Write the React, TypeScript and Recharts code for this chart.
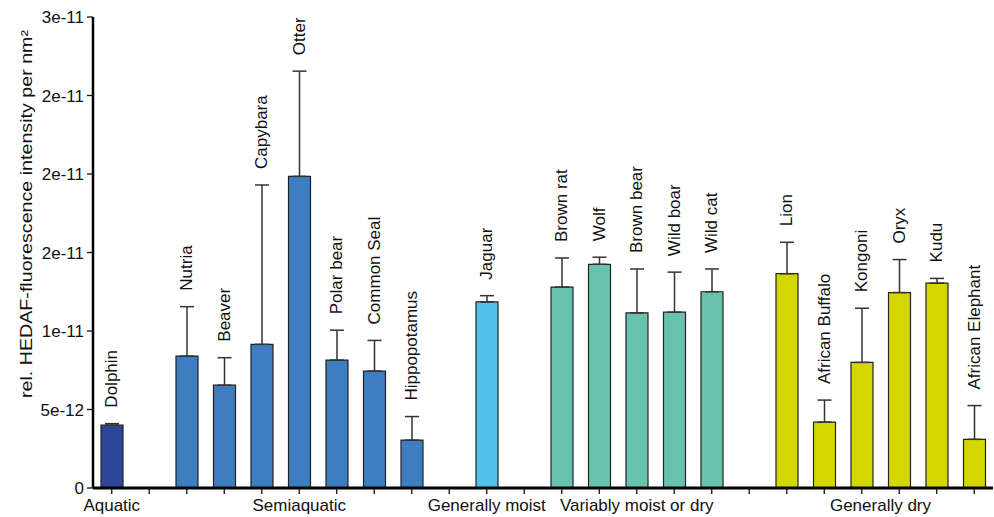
import React from "react";
import { BarChart, Bar, XAxis, YAxis, ErrorBar, Cell, LabelList } from "recharts";

// one entry per x slot, "" = empty spacer slot between groups
const animals = [
  "Dolphin", "",
  "Nutria", "Beaver", "Capybara", "Otter", "Polar bear", "Common Seal", "Hippopotamus", "",
  "Jaguar", "",
  "Brown rat", "Wolf", "Brown bear", "Wild boar", "Wild cat", "",
  "Lion", "African Buffalo", "Kongoni", "Oryx", "Kudu", "African Elephant",
];
const intensity = [
  4.0e-12, null,
  8.4e-12, 6.55e-12, 9.15e-12, 19.85e-12, 8.15e-12, 7.45e-12, 3.05e-12, null,
  11.85e-12, null,
  12.8e-12, 14.25e-12, 11.15e-12, 11.2e-12, 12.5e-12, null,
  13.65e-12, 4.2e-12, 8.0e-12, 12.45e-12, 13.05e-12, 3.1e-12,
];
const errUp = [
  0.1e-12, null,
  3.15e-12, 1.75e-12, 10.15e-12, 6.7e-12, 1.9e-12, 1.95e-12, 1.5e-12, null,
  0.4e-12, null,
  1.85e-12, 0.45e-12, 2.8e-12, 2.55e-12, 1.45e-12, null,
  2.0e-12, 1.4e-12, 3.45e-12, 2.1e-12, 0.3e-12, 2.15e-12,
];
const groupOf = [
  0, null,
  1, 1, 1, 1, 1, 1, 1, null,
  2, null,
  3, 3, 3, 3, 3, null,
  4, 4, 4, 4, 4, 4,
];
const groupNames = ["Aquatic", "Semiaquatic", "Generally moist", "Variably moist or dry", "Generally dry"];
const groupColors = ["#2C4697", "#3D7DC0", "#50C1EB", "#68C2AE", "#D4D600"];

const yTicks = [0, 5e-12, 1e-11, 1.5e-11, 2e-11, 2.5e-11, 3e-11];
const yTickLabels = ["0", "5e-12", "1e-11", "2e-11", "2e-11", "2e-11", "3e-11"];

const W = 994;
const H = 517;
const Y_AXIS_W = 93;
const X_AXIS_H = 29;
const M = { top: 17, right: 1, bottom: 0, left: 0 };
const BAND = (W - M.left - M.right - Y_AXIS_W) / animals.length;
const FONT = "'Liberation Sans', Arial, sans-serif";
const FS = 17;

const data = animals.map((name, i) => ({
  name,
  value: intensity[i],
  err: errUp[i] == null ? undefined : [0, errUp[i]],
}));

const groups = groupNames.map((name, g) => {
  const idx = groupOf.map((v, i) => (v === g ? i : -1)).filter((i) => i >= 0);
  return { name, center: (idx[0] + idx[idx.length - 1]) / 2 };
});

function GroupTick(props: any) {
  const { x, y, index } = props;
  const g = groups.find((gr) => Math.floor(gr.center) === index);
  if (!g) return <g />;
  const dx = (g.center - Math.floor(g.center)) * BAND;
  return (
    <text x={x + dx} y={y + 15} textAnchor="middle" fill="#111" fontSize={FS} fontFamily={FONT}>
      {g.name}
    </text>
  );
}

function AnimalLabel(props: any) {
  const { x, y, width, height, value } = props;
  if (!value) return null;
  const i = animals.indexOf(value);
  const v = intensity[i] as number;
  const e = (errUp[i] as number) || 0;
  const top = y - e * (height / v);
  const cx = x + width / 2;
  const ty = top - 16;
  return (
    <text
      x={cx}
      y={ty}
      transform={`rotate(-90, ${cx}, ${ty})`}
      textAnchor="start"
      dominantBaseline="central"
      fill="#111"
      fontSize={FS}
      fontFamily={FONT}
    >
      {value}
    </text>
  );
}

function YLabel() {
  const cx = 26;
  const cy = 214;
  return (
    <text
      x={cx}
      y={cy}
      transform={`rotate(-90, ${cx}, ${cy})`}
      textAnchor="middle"
      dominantBaseline="central"
      fill="#111"
      fontSize={16.5}
      fontFamily={FONT}
      textLength={368}
      lengthAdjust="spacingAndGlyphs"
    >
      rel. HEDAF-fluorescence intensity per nm²
    </text>
  );
}

export default function App() {
  return (
    <div style={{ position: "absolute", left: 0, top: 0, width: W, height: H, background: "#fff" }}>
      <BarChart width={W} height={H} data={data} margin={M}>
        <XAxis
          dataKey="name"
          height={X_AXIS_H}
          interval={0}
          axisLine={{ stroke: "#000", strokeWidth: 3 }}
          tickLine={{ stroke: "#111", strokeWidth: 1.3 }}
          tickSize={6}
          tickMargin={2}
          tick={(p: any) => <GroupTick {...p} />}
        />
        <YAxis
          width={Y_AXIS_W}
          domain={[0, 3e-11]}
          ticks={yTicks}
          interval={0}
          allowDataOverflow
          axisLine={{ stroke: "#000", strokeWidth: 2.5 }}
          tickLine={{ stroke: "#111", strokeWidth: 1.3 }}
          tickSize={6}
          tickMargin={3}
          tick={{ fill: "#111", fontSize: FS, fontFamily: FONT }}
          tickFormatter={(v: number, i: number) => yTickLabels[i]}
          label={<YLabel />}
        />
        <Bar dataKey="value" barSize={22} stroke="#222" strokeWidth={1.2} isAnimationActive={false}>
          {data.map((d, i) => (
            <Cell key={i} fill={groupOf[i] == null ? "none" : groupColors[groupOf[i] as number]} />
          ))}
          <ErrorBar dataKey="err" width={7} stroke="#333" strokeWidth={1.5} direction="y" />
          <LabelList dataKey="name" content={(p: any) => <AnimalLabel {...p} />} />
        </Bar>
      </BarChart>
    </div>
  );
}
